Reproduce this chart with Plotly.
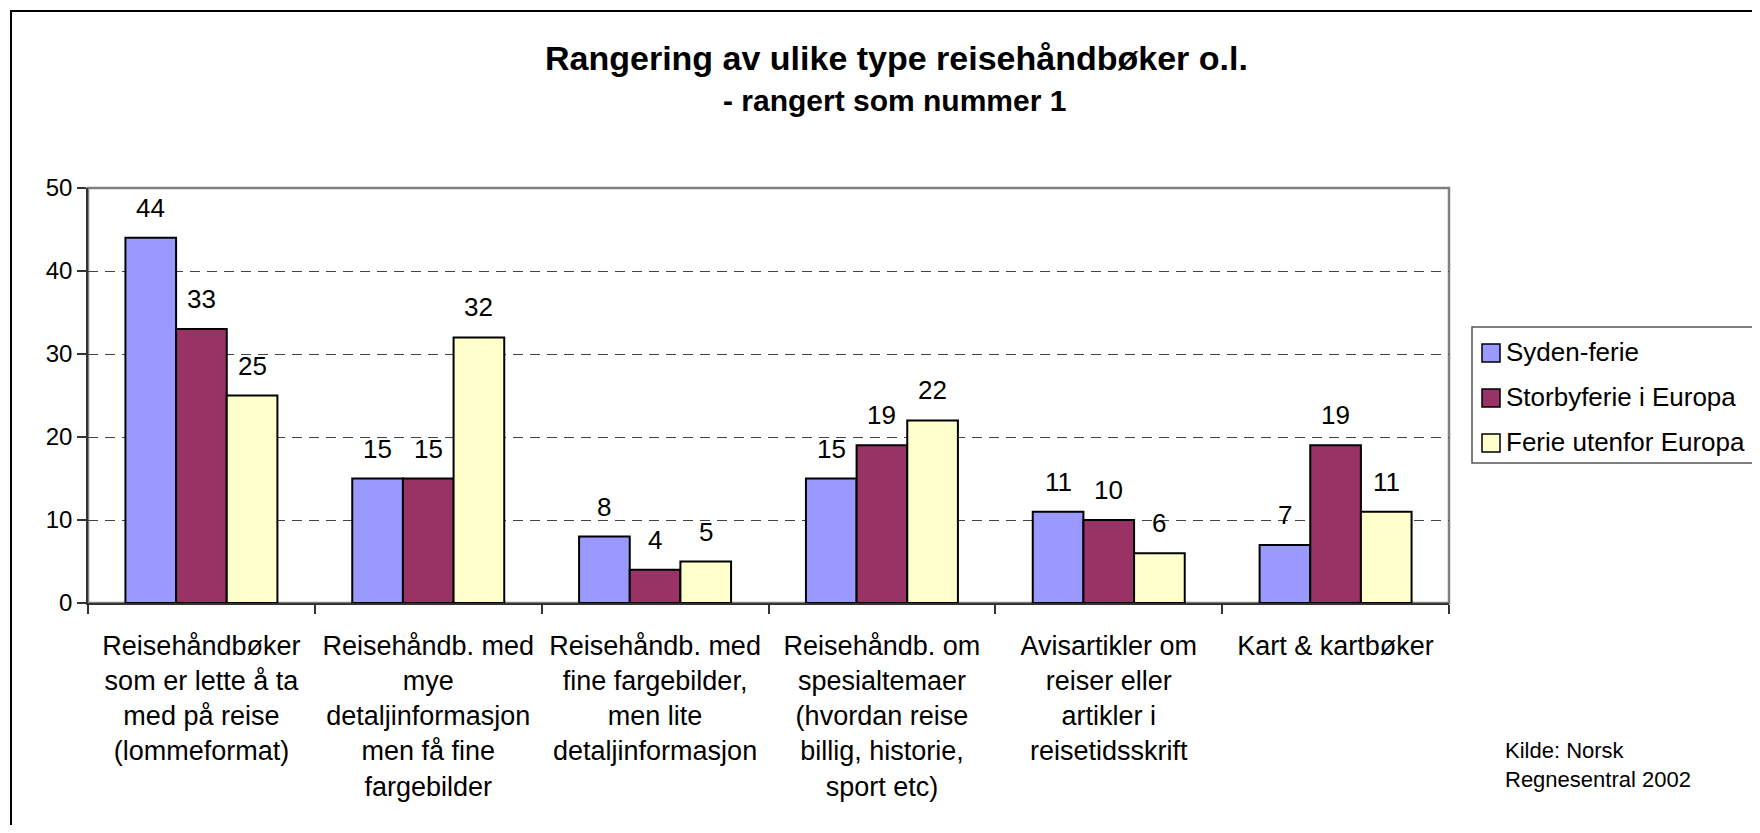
import plotly.graph_objects as go

# ---- data ----
categories = [
    "Reisehåndbøker<br>som er lette å ta<br>med på reise<br>(lommeformat)",
    "Reisehåndb. med<br>mye<br>detaljinformasjon<br>men få fine<br>fargebilder",
    "Reisehåndb. med<br>fine fargebilder,<br>men lite<br>detaljinformasjon",
    "Reisehåndb. om<br>spesialtemaer<br>(hvordan reise<br>billig, historie,<br>sport etc)",
    "Avisartikler om<br>reiser eller<br>artikler i<br>reisetidsskrift",
    "Kart & kartbøker",
]
series_names = ["Syden-ferie", "Storbyferie i Europa", "Ferie utenfor Europa"]
syden = [44, 15, 8, 15, 11, 7]
storby = [33, 15, 4, 19, 10, 19]
utenfor = [25, 32, 5, 22, 6, 11]
series_values = [syden, storby, utenfor]
colors = ["#9999FF", "#993366", "#FFFFCC"]

title_text = "Rangering av ulike type reisehåndbøker o.l."
subtitle_text = "- rangert som nummer 1"
source_text = "Kilde: Norsk<br>Regnesentral 2002"
y_ticks = [0, 10, 20, 30, 40, 50]

# ---- layout geometry (pixels, in screen coordinates) ----
OFF = 8  # page body margin
W, H = 1760 - OFF * 2, 833 - OFF * 2
PL, PR, PT, PB = 88, 1449, 188, 603
plot_w = PR - PL
plot_h = PB - PT
BARGAP = 0.33
FONT = "Liberation Sans, Arial, sans-serif"


def px(x):
    return (x - PL) / plot_w


def py(y):
    return (PB - y) / plot_h


fig = go.Figure()
for name, vals, col in zip(series_names, series_values, colors):
    fig.add_trace(go.Bar(
        x=categories, y=vals, name=name,
        marker=dict(color=col, line=dict(color="#000000", width=2)),
        showlegend=False, hoverinfo="x+y+name",
    ))

# data labels above bars
bar_w_px = plot_w / len(categories) * (1 - BARGAP) / len(series_names)
annotations = []
for j, vals in enumerate(series_values):
    for c, v in zip(categories, vals):
        annotations.append(dict(
            x=c, y=v, xref="x", yref="y", text=str(v), showarrow=False,
            xshift=(j - 1) * bar_w_px, yshift=30, yanchor="middle",
            font=dict(family=FONT, size=26, color="#000000"),
        ))

# titles
annotations.append(dict(
    x=px(896), y=py(58), xref="paper", yref="paper", text="<b>" + title_text + "</b>",
    showarrow=False, xanchor="center", yanchor="middle",
    font=dict(family=FONT, size=34, color="#000000"),
))
annotations.append(dict(
    x=px(894), y=py(101), xref="paper", yref="paper", text="<b>" + subtitle_text + "</b>",
    showarrow=False, xanchor="center", yanchor="middle",
    font=dict(family=FONT, size=30, color="#000000"),
))
# source
annotations.append(dict(
    x=px(1503), y=py(765), xref="paper", yref="paper", text=source_text,
    showarrow=False, xanchor="left", yanchor="middle", align="left",
    font=dict(family=FONT, size=22, color="#000000"),
))

# manual legend
shapes = []
leg_y = [352, 397, 442]
for name, col, yc in zip(series_names, colors, leg_y):
    shapes.append(dict(
        type="rect", xref="paper", yref="paper",
        x0=px(1482), x1=px(1500), y0=py(yc + 1 + 9), y1=py(yc + 1 - 9),
        fillcolor=col, line=dict(color="#000000", width=1.5),
    ))
    annotations.append(dict(
        x=px(1504), y=py(yc), xref="paper", yref="paper", text=name,
        showarrow=False, xanchor="left", yanchor="middle",
        font=dict(family=FONT, size=26, color="#000000"),
    ))
shapes.append(dict(
    type="rect", xref="paper", yref="paper",
    x0=px(1472), x1=px(1800), y0=py(463), y1=py(327),
    line=dict(color="#555555", width=1.5), fillcolor="rgba(0,0,0,0)",
))
# plot area border (grey top/right)
shapes.append(dict(
    type="rect", xref="paper", yref="paper", x0=0, x1=1, y0=0, y1=1,
    line=dict(color="#808080", width=2.5), layer="below",
))
# outer chart border
shapes.append(dict(
    type="rect", xref="paper", yref="paper",
    x0=px(11), x1=px(1800), y0=py(880), y1=py(11),
    line=dict(color="#000000", width=2), fillcolor="rgba(0,0,0,0)",
))

fig.update_layout(
    width=W, height=H,
    margin=dict(l=PL - OFF, r=W - (PR - OFF), t=PT - OFF, b=H - (PB - OFF),
                autoexpand=False),
    paper_bgcolor="#ffffff", plot_bgcolor="#ffffff",
    barmode="group", bargap=BARGAP, bargroupgap=0,
    font=dict(family=FONT, color="#000000"),
    annotations=annotations, shapes=shapes,
    showlegend=False,
)
fig.update_xaxes(
    type="category", tickson="boundaries", ticks="outside", ticklen=9,
    tickcolor="#333333", tickwidth=1.5,
    showline=True, linecolor="#333333", linewidth=1.5,
    showgrid=False, tickfont=dict(family=FONT, size=27, color="#000000"),
    ticklabelstandoff=18, tickangle=0,
)
fig.update_yaxes(
    range=[0, 50], tickvals=y_ticks, ticks="outside", ticklen=9,
    tickcolor="#333333", tickwidth=1.5,
    showline=True, linecolor="#333333", linewidth=1.5,
    showgrid=True, gridcolor="#444444", gridwidth=1, griddash="10px,7px",
    zeroline=False, tickfont=dict(family=FONT, size=24, color="#000000"),
    ticklabelstandoff=0,
)

fig.write_html("out.html")
